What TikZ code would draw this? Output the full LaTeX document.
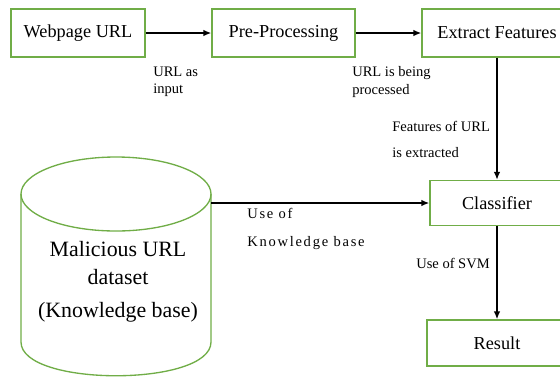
\documentclass[tikz,border=0pt]{standalone}
\usepackage{fontspec}
\setmainfont{Liberation Serif}
\usetikzlibrary{arrows.meta}
\definecolor{boxgreen}{RGB}{112,173,71}
\tikzset{
  block/.style={
      draw=boxgreen,
      line width=1pt,
      rectangle,
      minimum height=36pt,
      text centered,
      font=\fontsize{13.7}{16}\selectfont
  },
  flow/.style={
      draw,
      line width=1.2pt,
      -{Latex[length=6pt,width=5pt]}
  },
  note/.style={
      anchor=west,
      align=left,
      inner sep=0pt,
      font=\fontsize{10.9}{13}\selectfont
  },
  db/.style={
      draw=boxgreen,
      line width=1pt
  }
}
\begin{document}
\begin{tikzpicture}[x=0.75pt,y=-0.75pt]
  \useasboundingbox (0,0) rectangle (560,376);
  \clip (0,0) rectangle (560,376);
  \node[block, minimum width=100.5pt] (url) at (78,33) {Webpage URL};
  \node[block, minimum width=107.25pt] (prep) at (283.5,33) {Pre-Processing};
  \node[block, minimum width=112.5pt] (feat) at (497,33) {Extract Features};
  \node[block, minimum width=100.5pt, minimum height=33.75pt] (clf) at (497,203) {Classifier};
  \node[block, minimum width=105pt, minimum height=34.5pt] (res) at (497,343) {Result};

  \draw[db] (21,194) -- (21,342) .. controls (21,387) and (211,387) .. (211,342) -- (211,194);
  \draw[db] (116,194) ellipse[x radius=95, y radius=37];
  \node[align=center, font=\fontsize{16.4}{21}\selectfont] (dbtext) at (118,282)
    {Malicious URL\\dataset\\[4pt](Knowledge base)};
  \coordinate (dbout) at (211,203);

  \draw[flow] (url) -- (prep);
  \draw[flow] (prep) -- (feat);
  \draw[flow] (feat) -- (clf);
  \draw[flow] (dbout) -- (dbout -| clf.west);
  \draw[flow] (clf) -- (res);

  \node[note] (lab1) at (153,82) {URL as\\input};
  \node[note] (lab2) at (352,82) {URL is being\\processed};
  \node[note, font=\fontsize{10.9}{20}\selectfont] (lab3) at (392,139.5) {Features of URL\\is extracted};
  \node[note, font=\fontsize{10.9}{21}\selectfont\addfontfeature{LetterSpace=12}] (lab4) at (247,229) {Use of\\Knowledge base};
  \node[note] (lab5) at (416,263) {Use of SVM};
\end{tikzpicture}
\end{document}
